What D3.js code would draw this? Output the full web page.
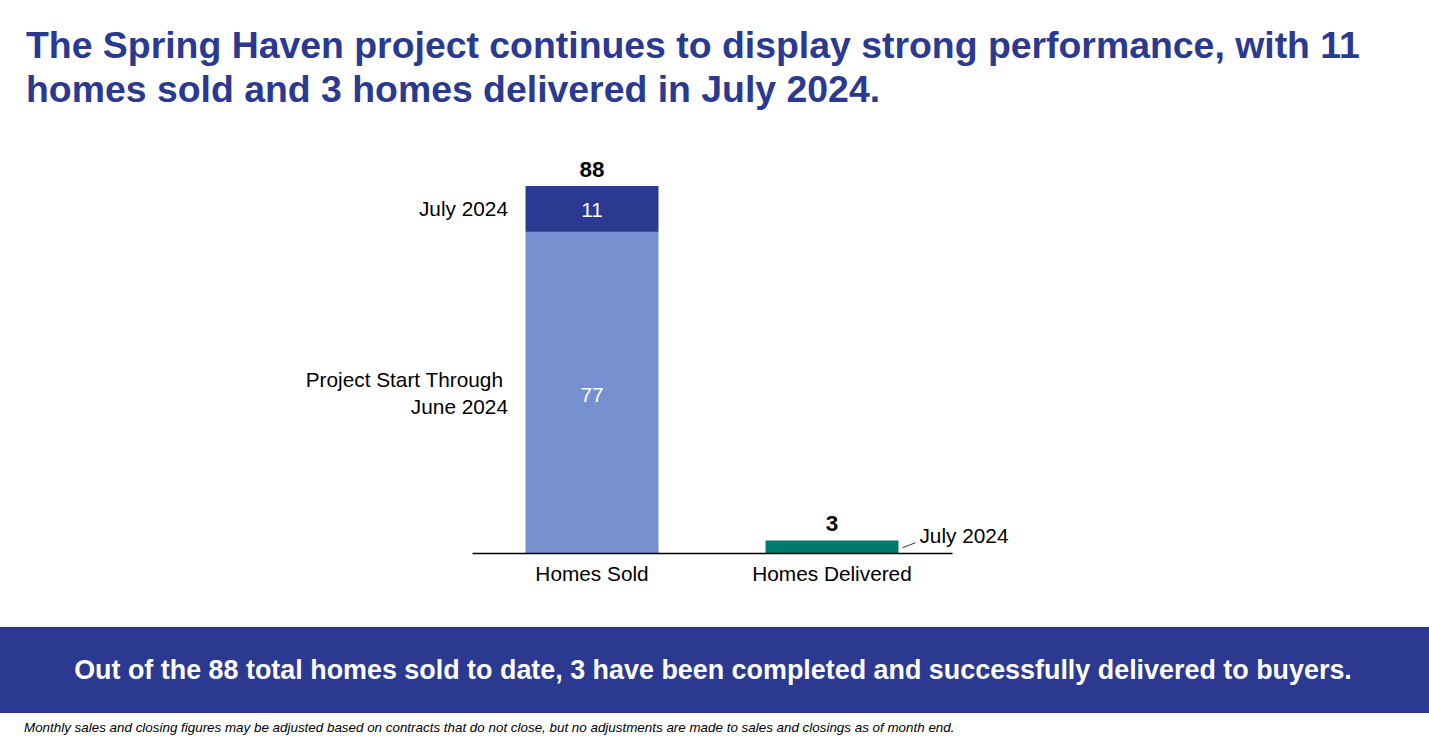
<!DOCTYPE html>
<html><head><meta charset="utf-8">
<script src="https://cdn.jsdelivr.net/npm/d3@7"></script>
<style>
html,body{margin:0;padding:0;background:#fff;}
svg{display:block;font-family:"Liberation Sans",Arial,sans-serif;}
</style></head>
<body>
<svg id="c" width="1429" height="741"></svg>
<script>
const titleLines = ["The Spring Haven project continues to display strong performance, with 11",
                    "homes sold and 3 homes delivered in July 2024."];
const categories = ["Homes Sold", "Homes Delivered"];
const priorValues = [77, 0];     // Project Start Through June 2024
const julyValues = [11, 3];      // July 2024
const totals = [88, 3];
const bannerText = "Out of the 88 total homes sold to date, 3 have been completed and successfully delivered to buyers.";
const footnote = "Monthly sales and closing figures may be adjusted based on contracts that do not close, but no adjustments are made to sales and closings as of month end.";

const colors = {title:"#2B3990", prior:"#7690D0", july:"#2B3990", delivered:"#007A6E", banner:"#2B3990"};
const LF = 20.8;

const svg = d3.select("#c");

// Title
const t = svg.append("text").attr("x", 26).attr("fill", colors.title)
  .attr("font-weight", "bold").attr("font-size", 37.4);
titleLines.forEach((l, i) => t.append("tspan").attr("x", 26).attr("y", 58 + i * 44).text(l));

// Scales
const x = d3.scaleBand().domain(categories).range([472, 952]).paddingInner(0.446).paddingOuter(0.223);
const y = d3.scaleLinear().domain([0, 88]).range([553, 186]);

const stack = categories.map((c, i) => ({cat: c, prior: priorValues[i], july: julyValues[i], total: totals[i]}));

const g = svg.append("g");
// prior segment
g.selectAll("rect.prior").data(stack.filter(d => d.prior > 0)).join("rect")
  .attr("x", d => x(d.cat)).attr("width", x.bandwidth())
  .attr("y", d => y(d.prior)).attr("height", d => y(0) - y(d.prior))
  .attr("fill", colors.prior);
// july segment
g.selectAll("rect.july").data(stack).join("rect")
  .attr("x", d => x(d.cat)).attr("width", x.bandwidth())
  .attr("y", d => y(d.prior + d.july)).attr("height", d => y(d.prior) - y(d.prior + d.july))
  .attr("fill", (d, i) => i === 0 ? colors.july : colors.delivered);

// segment labels (white)
const sold = stack[0];
const cx0 = x(sold.cat) + x.bandwidth() / 2;
g.append("text").attr("x", cx0).attr("y", (y(sold.prior) + y(sold.prior + sold.july)) / 2 + 1)
  .attr("dy", "0.35em").attr("text-anchor", "middle").attr("fill", "#fff").attr("font-size", LF).text(sold.july);
g.append("text").attr("x", cx0).attr("y", (y(0) + y(sold.prior)) / 2 + 2)
  .attr("dy", "0.35em").attr("text-anchor", "middle").attr("fill", "#fff").attr("font-size", LF).text(sold.prior);

// totals
g.selectAll("text.total").data(stack).join("text")
  .attr("x", d => x(d.cat) + x.bandwidth() / 2).attr("y", d => y(d.total) - 9)
  .attr("text-anchor", "middle").attr("font-weight", "bold").attr("font-size", 22.5).attr("fill", "#000")
  .text(d => d.total);

// left series labels
g.append("text").attr("x", 508).attr("y", (y(sold.prior) + y(sold.prior + sold.july)) / 2)
  .attr("dy", "0.35em").attr("text-anchor", "end").attr("font-size", LF).attr("fill", "#000").text("July 2024");
const pl = g.append("text").attr("text-anchor", "end").attr("font-size", LF).attr("fill", "#000");
pl.append("tspan").attr("x", 503).attr("y", 387).text("Project Start Through");
pl.append("tspan").attr("x", 508).attr("y", 414).text("June 2024");

// delivered leader label
const del = stack[1];
const dx = x(del.cat) + x.bandwidth();
const dy = y(del.total);
g.append("line").attr("x1", dx + 4).attr("y1", (y(0) + dy) / 2 + 1).attr("x2", dx + 17).attr("y2", (y(0) + dy) / 2 - 4)
  .attr("stroke", "#000").attr("stroke-width", 0.8);
g.append("text").attr("x", dx + 21).attr("y", (y(0) + dy) / 2 - 11).attr("dy", "0.35em")
  .attr("font-size", LF).attr("fill", "#000").text("July 2024");

// axis
const ax = svg.append("g").attr("transform", `translate(0,${y(0)})`)
  .call(d3.axisBottom(x).tickSize(0).tickPadding(13).tickSizeOuter(0));
ax.select(".domain").attr("stroke", "#000").attr("stroke-width", 1.5);
ax.selectAll("text").attr("font-size", LF).attr("fill", "#000").attr("font-family", "Liberation Sans, Arial, sans-serif");

// banner
svg.append("rect").attr("x", 0).attr("y", 627).attr("width", 1429).attr("height", 86).attr("fill", colors.banner);
svg.append("text").attr("x", 713).attr("y", 670).attr("dy", "0.35em").attr("text-anchor", "middle")
  .attr("fill", "#fff").attr("font-weight", "bold").attr("font-size", 26.9).text(bannerText);

// footnote
svg.append("text").attr("x", 24).attr("y", 732).attr("font-style", "italic").attr("font-size", 13.4)
  .attr("fill", "#000").text(footnote);
</script>
</body></html>
